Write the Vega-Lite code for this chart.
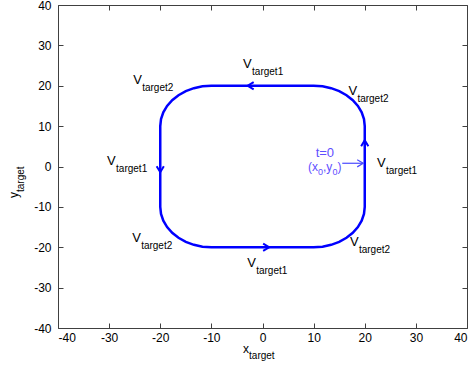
{
  "$schema": "https://vega.github.io/schema/vega-lite/v6.json",
  "width": 409,
  "height": 323,
  "autosize": {"type": "none"},
  "padding": {"left": 58, "top": 5, "right": 7, "bottom": 44},
  "background": "white",
  "config": {
    "view": {"stroke": null},
    "font": "Liberation Sans",
    "axis": {
      "grid": false,
      "domainColor": "#404040",
      "tickColor": "#404040",
      "labelColor": "#000000",
      "labelFont": "Liberation Sans",
      "labelFontSize": 12,
      "tickSize": -5,
      "title": null,
      "labelExpr": "datum.value < 0 ? '-' + abs(datum.value) : '' + datum.value"
    }
  },
  "datasets": {
    "path": [
      {"i": 0, "x": 20, "y": 0},
      {"i": 1, "x": 20, "y": 10},
      {"i": 2, "x": 19.85, "y": 11.74},
      {"i": 3, "x": 19.4, "y": 13.42},
      {"i": 4, "x": 18.66, "y": 15},
      {"i": 5, "x": 17.66, "y": 16.43},
      {"i": 6, "x": 16.43, "y": 17.66},
      {"i": 7, "x": 15, "y": 18.66},
      {"i": 8, "x": 13.42, "y": 19.4},
      {"i": 9, "x": 11.74, "y": 19.85},
      {"i": 10, "x": 10, "y": 20},
      {"i": 11, "x": -10, "y": 20},
      {"i": 12, "x": -11.74, "y": 19.85},
      {"i": 13, "x": -13.42, "y": 19.4},
      {"i": 14, "x": -15, "y": 18.66},
      {"i": 15, "x": -16.43, "y": 17.66},
      {"i": 16, "x": -17.66, "y": 16.43},
      {"i": 17, "x": -18.66, "y": 15},
      {"i": 18, "x": -19.4, "y": 13.42},
      {"i": 19, "x": -19.85, "y": 11.74},
      {"i": 20, "x": -20, "y": 10},
      {"i": 21, "x": -20, "y": -10},
      {"i": 22, "x": -19.85, "y": -11.74},
      {"i": 23, "x": -19.4, "y": -13.42},
      {"i": 24, "x": -18.66, "y": -15},
      {"i": 25, "x": -17.66, "y": -16.43},
      {"i": 26, "x": -16.43, "y": -17.66},
      {"i": 27, "x": -15, "y": -18.66},
      {"i": 28, "x": -13.42, "y": -19.4},
      {"i": 29, "x": -11.74, "y": -19.85},
      {"i": 30, "x": -10, "y": -20},
      {"i": 31, "x": 10, "y": -20},
      {"i": 32, "x": 11.74, "y": -19.85},
      {"i": 33, "x": 13.42, "y": -19.4},
      {"i": 34, "x": 15, "y": -18.66},
      {"i": 35, "x": 16.43, "y": -17.66},
      {"i": 36, "x": 17.66, "y": -16.43},
      {"i": 37, "x": 18.66, "y": -15},
      {"i": 38, "x": 19.4, "y": -13.42},
      {"i": 39, "x": 19.85, "y": -11.74},
      {"i": 40, "x": 20, "y": -10},
      {"i": 41, "x": 20, "y": 0}
    ],
    "arrows": [
      {"x": -2.9, "y": 20, "dir": 270},
      {"x": 1.3, "y": -20, "dir": 90},
      {"x": -20, "y": -1.4, "dir": 180},
      {"x": 20, "y": 6.5, "dir": 0}
    ],
    "labels": [
      {"x": -3.8, "y": 24.4, "main": "V", "sub": "target1"},
      {"x": -25.3, "y": 20.4, "main": "V", "sub": "target2"},
      {"x": 16.8, "y": 17.7, "main": "V", "sub": "target2"},
      {"x": -30.4, "y": 0.4, "main": "V", "sub": "target1"},
      {"x": 22.4, "y": -0.1, "main": "V", "sub": "target1"},
      {"x": -25.5, "y": -18.7, "main": "V", "sub": "target2"},
      {"x": -3.0, "y": -24.9, "main": "V", "sub": "target1"},
      {"x": 17.1, "y": -19.8, "main": "V", "sub": "target2"}
    ],
    "note": [
      {"x": 15.6, "x2": 19.7, "y": 0.8}
    ],
    "noteTip": [
      {"x": 19.7, "y": 0.8, "dir": 90}
    ],
    "noteMain": [
      {"x": 8.9, "y": -1.11, "t": "(x"},
      {"x": 11.84, "y": -1.11, "t": ",y"},
      {"x": 14.68, "y": -1.11, "t": ")"}
    ],
    "noteSub": [
      {"x": 10.86, "y": -2.1, "t": "0"},
      {"x": 13.7, "y": -2.1, "t": "0"}
    ],
    "noteTop": [
      {"x": 12.2, "y": 2.3, "t": "t=0"}
    ],
    "xtitle": [
      {"x": -3.8, "y": -46.2, "main": "x", "sub": "target"}
    ],
    "ytitle": [
      {"x": -47.8, "y": -7.8, "main": "y", "sub": "target"}
    ]
  },
  "encoding": {
    "x": {"field": "x", "type": "quantitative", "scale": {"domain": [-40, 40], "nice": false, "zero": false}, "axis": null},
    "y": {"field": "y", "type": "quantitative", "scale": {"domain": [-40, 40], "nice": false, "zero": false}, "axis": null}
  },
  "resolve": {"axis": {"x": "independent", "y": "independent"}},
  "layer": [
    {
      "data": {"name": "path"},
      "mark": {"type": "point", "opacity": 0},
      "encoding": {
        "x": {"field": "x", "type": "quantitative", "scale": {"domain": [-40, 40], "nice": false, "zero": false},
              "axis": {"orient": "top", "values": [-40, -30, -20, -10, 0, 10, 20, 30, 40], "labels": false}},
        "y": {"field": "y", "type": "quantitative", "scale": {"domain": [-40, 40], "nice": false, "zero": false},
              "axis": {"orient": "right", "values": [-40, -30, -20, -10, 0, 10, 20, 30, 40], "labels": false}}
      }
    },
    {
      "data": {"name": "path"},
      "mark": {"type": "line", "color": "#0000ff", "strokeWidth": 2.5},
      "encoding": {
        "x": {"field": "x", "type": "quantitative", "scale": {"domain": [-40, 40], "nice": false, "zero": false},
              "axis": {"orient": "bottom", "values": [-40, -30, -20, -10, 0, 10, 20, 30, 40], "labelPadding": 9}},
        "y": {"field": "y", "type": "quantitative", "scale": {"domain": [-40, 40], "nice": false, "zero": false},
              "axis": {"orient": "left", "values": [-40, -30, -20, -10, 0, 10, 20, 30, 40], "labelPadding": 12}},
        "order": {"field": "i", "type": "quantitative"}
      }
    },
    {
      "data": {"name": "arrows"},
      "mark": {"type": "point", "shape": "M-0.6,1L0,0L0.6,1", "filled": false, "stroke": "#0000ff", "strokeWidth": 2, "size": 144, "opacity": 1},
      "encoding": {
        "angle": {"field": "dir", "type": "quantitative", "scale": null}
      }
    },
    {
      "data": {"name": "note"},
      "mark": {"type": "rule", "color": "#4a4aff", "strokeWidth": 1.2},
      "encoding": {
        "x2": {"field": "x2"}
      }
    },
    {
      "data": {"name": "noteTip"},
      "mark": {"type": "point", "shape": "M-0.6,1L0,0L0.6,1", "filled": false, "stroke": "#4a4aff", "strokeWidth": 1.2, "size": 144, "opacity": 1},
      "encoding": {
        "angle": {"field": "dir", "type": "quantitative", "scale": null}
      }
    },
    {
      "data": {"name": "labels"},
      "mark": {"type": "text", "align": "left", "baseline": "alphabetic", "fontSize": 13, "color": "#000000"},
      "encoding": {"text": {"field": "main"}}
    },
    {
      "data": {"name": "labels"},
      "mark": {"type": "text", "align": "left", "baseline": "alphabetic", "fontSize": 10, "dx": 9, "dy": 7, "color": "#000000"},
      "encoding": {"text": {"field": "sub"}}
    },
    {
      "data": {"name": "noteTop"},
      "mark": {"type": "text", "align": "center", "baseline": "alphabetic", "fontSize": 13, "color": "#5f4fff"},
      "encoding": {"text": {"field": "t"}}
    },
    {
      "data": {"name": "noteMain"},
      "mark": {"type": "text", "align": "left", "baseline": "alphabetic", "fontSize": 12, "color": "#5f4fff"},
      "encoding": {"text": {"field": "t"}}
    },
    {
      "data": {"name": "noteSub"},
      "mark": {"type": "text", "align": "left", "baseline": "alphabetic", "fontSize": 9, "color": "#5f4fff"},
      "encoding": {"text": {"field": "t"}}
    },
    {
      "data": {"name": "xtitle"},
      "mark": {"type": "text", "align": "left", "baseline": "alphabetic", "fontSize": 12, "color": "#000000"},
      "encoding": {"text": {"field": "main"}}
    },
    {
      "data": {"name": "xtitle"},
      "mark": {"type": "text", "align": "left", "baseline": "alphabetic", "fontSize": 10, "dx": 6, "dy": 6, "color": "#000000"},
      "encoding": {"text": {"field": "sub"}}
    },
    {
      "data": {"name": "ytitle"},
      "mark": {"type": "text", "align": "left", "baseline": "alphabetic", "fontSize": 12, "angle": 270, "color": "#000000"},
      "encoding": {"text": {"field": "main"}}
    },
    {
      "data": {"name": "ytitle"},
      "mark": {"type": "text", "align": "left", "baseline": "alphabetic", "fontSize": 10, "angle": 270, "dx": 6, "dy": 6, "color": "#000000"},
      "encoding": {"text": {"field": "sub"}}
    }
  ]
}
